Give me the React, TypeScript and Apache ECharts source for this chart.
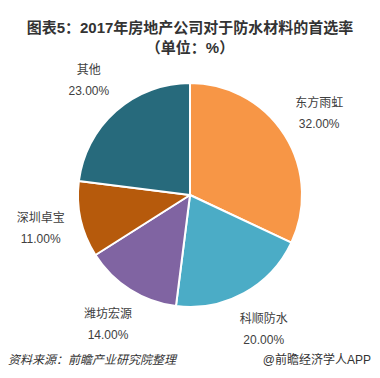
import React, { useEffect, useRef } from "react";
import * as echarts from "echarts";

const categories = ["东方雨虹", "科顺防水", "潍坊宏源", "深圳卓宝", "其他"];
const values = [32, 20, 14, 11, 23];
const colors = ["#F79646", "#4BACC6", "#8064A2", "#B65A0C", "#276A7C"];
const titleText = "图表5：2017年房地产公司对于防水材料的首选率\n（单位：%）";
const sourceText = "资料来源：前瞻产业研究院整理";
const brandText = "@前瞻经济学人APP";

const FONT = "'Liberation Sans', 'Noto Sans CJK SC', sans-serif";

export default function App() {
  const ref = useRef<HTMLDivElement>(null);
  useEffect(() => {
    if (!ref.current) return;
    const chart = echarts.init(ref.current, undefined, { renderer: "svg" });
    const pieData = categories.map((c, i) => ({
      name: c,
      value: values[i],
      itemStyle: { color: colors[i] },
    }));
    const labelData = categories.map((c, i) => ({
      name: c,
      value: values[i],
      itemStyle: { color: "rgba(0,0,0,0)" },
    }));
    chart.setOption({
      animation: false,
      backgroundColor: "#ffffff",
      title: {
        text: titleText,
        left: "center",
        top: 12,
        textStyle: {
          fontSize: 15,
          fontWeight: "bold",
          lineHeight: 20,
          color: "#333333",
          fontFamily: FONT,
        },
      },
      series: [
        {
          type: "pie",
          radius: [0, 112],
          center: [190, 195],
          startAngle: 90,
          clockwise: true,
          silent: true,
          label: { show: false },
          labelLine: { show: false },
          itemStyle: { borderColor: "#ffffff", borderWidth: 2 },
          data: pieData,
        },
        {
          type: "pie",
          radius: [138, 162],
          center: [190, 195],
          startAngle: 90,
          clockwise: true,
          silent: true,
          itemStyle: { borderWidth: 0 },
          label: {
            show: true,
            position: "inside",
            formatter: (p: any) => `${p.name}\n${Number(p.value).toFixed(2)}%`,
            fontSize: 12,
            lineHeight: 21,
            color: "#404040",
            fontFamily: FONT,
          },
          labelLine: { show: false },
          data: labelData,
        },
      ],
      graphic: [
        {
          type: "text",
          left: 8,
          top: 354,
          style: {
            text: sourceText,
            fontSize: 12,
            fontStyle: "italic",
            fill: "#333333",
            fontFamily: FONT,
          },
        },
        {
          type: "text",
          right: 9,
          top: 354,
          style: {
            text: brandText,
            fontSize: 12,
            fill: "#333333",
            fontFamily: FONT,
          },
        },
      ],
    });
    return () => chart.dispose();
  }, []);
  return (
    <div
      ref={ref}
      style={{ position: "fixed", left: 0, top: 0, width: 380, height: 378 }}
    />
  );
}
